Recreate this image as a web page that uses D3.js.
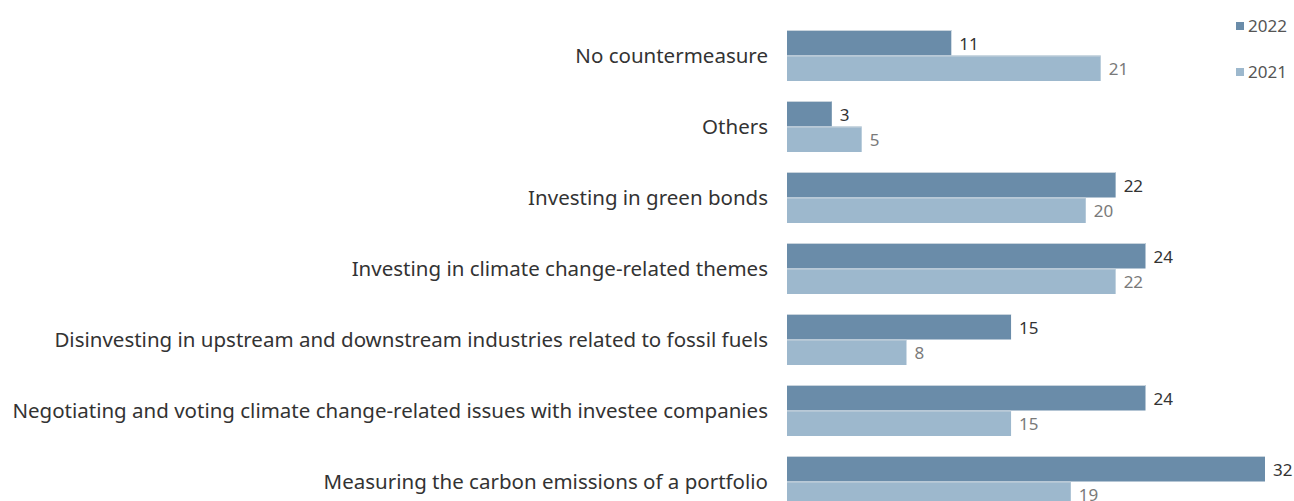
<!DOCTYPE html>
<html>
<head>
<meta charset="utf-8">
<script src="https://cdn.jsdelivr.net/npm/d3@7"></script>
<style>
  body { margin: 0; background: #fff; }
  text { font-family: "Noto Sans", "Open Sans", sans-serif; }
</style>
</head>
<body>
<svg id="chart" width="1294" height="501"></svg>
<script>
let categories = [
  'No countermeasure',
  'Others',
  'Investing in green bonds',
  'Investing in climate change-related themes',
  'Disinvesting in upstream and downstream industries related to fossil fuels',
  'Negotiating and voting climate change-related issues with investee companies',
  'Measuring the carbon emissions of a portfolio'
];
let seriesNames = ['2022', '2021'];
let values2022 = [11, 3, 22, 24, 15, 24, 32];
let values2021 = [21, 5, 20, 22, 8, 15, 19];

let colors = { '2022': '#6a8ca9', '2021': '#9db8cd' };
let labelColors = { '2022': '#333333', '2021': '#7a7a7a' };

let rows = categories.map(function(c, i) {
  return { cat: c, vals: [
    { key: '2022', v: values2022[i] },
    { key: '2021', v: values2021[i] }
  ]};
});

let svg = d3.select('#chart');

let x = d3.scaleLinear()
    .domain([0, 32])
    .range([787, 1265]);

// step 71, band 51
let y = d3.scaleBand()
    .domain(categories)
    .range([30, 30 + 71 * (7 - 20 / 71)])
    .paddingInner(20 / 71)
    .paddingOuter(0);

let ySub = d3.scaleBand()
    .domain(seriesNames)
    .range([0, y.bandwidth()]);

let row = svg.append('g').attr('class', 'rows')
  .selectAll('g')
  .data(rows)
  .enter().append('g')
    .attr('transform', function(d) { return 'translate(0,' + y(d.cat) + ')'; });

// category labels
row.append('text')
    .attr('x', 768)
    .attr('y', y.bandwidth() / 2)
    .attr('dy', '0.35em')
    .attr('text-anchor', 'end')
    .attr('fill', '#333')
    .style('font-size', '20.5px')
    .text(function(d) { return d.cat; });

let bar = row.selectAll('g.bar')
  .data(function(d) { return d.vals; })
  .enter().append('g')
    .attr('class', 'bar');

bar.append('rect')
    .attr('x', x(0))
    .attr('y', function(d) { return ySub(d.key); })
    .attr('width', function(d) { return x(d.v) - x(0); })
    .attr('height', ySub.bandwidth())
    .attr('fill', function(d) { return colors[d.key]; });

// thin light top edge
bar.append('line')
    .attr('x1', x(0))
    .attr('x2', function(d) { return x(d.v); })
    .attr('y1', function(d) { return ySub(d.key) + 0.5; })
    .attr('y2', function(d) { return ySub(d.key) + 0.5; })
    .attr('stroke', '#c9d4dd')
    .attr('stroke-width', 1);

bar.append('text')
    .attr('x', function(d) { return x(d.v) + 8; })
    .attr('y', function(d) { return ySub(d.key) + ySub.bandwidth() / 2 + 1; })
    .attr('dy', '0.35em')
    .attr('fill', function(d) { return labelColors[d.key]; })
    .style('font-size', '17px')
    .text(function(d) { return d.v; });

// legend
let legend = svg.append('g').attr('class', 'legend')
  .selectAll('g')
  .data(seriesNames)
  .enter().append('g')
    .attr('transform', function(d, i) { return 'translate(1236,' + (26 + i * 46) + ')'; });

legend.append('rect')
    .attr('x', 0)
    .attr('y', -4)
    .attr('width', 8)
    .attr('height', 8)
    .attr('fill', function(d) { return colors[d]; });

legend.append('text')
    .attr('x', 12)
    .attr('y', 0)
    .attr('dy', '0.35em')
    .attr('fill', '#555')
    .style('font-size', '17px')
    .text(function(d) { return d; });
</script>
</body>
</html>
